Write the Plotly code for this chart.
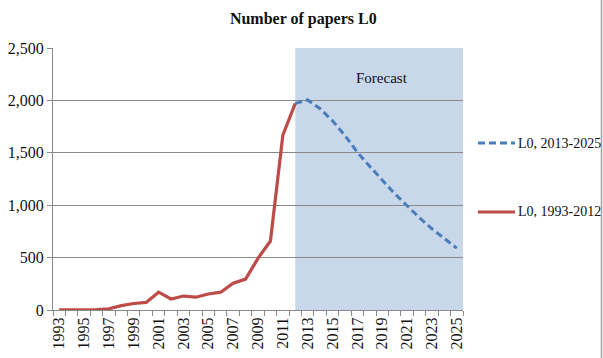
import plotly.graph_objects as go

# Observed yearly paper counts
actual_years = list(range(1993, 2013))
actual_counts = [2, 2, 2, 3, 12, 42, 62, 72, 170, 105, 133, 122, 153, 170, 255, 295, 493, 658, 1668, 1972]

# Forecast (continues from the last observed year)
forecast_years = list(range(2013, 2026))
forecast_counts = [2004, 1920, 1805, 1665, 1505, 1370, 1235, 1110, 995, 880, 775, 680, 590]

label_years = list(range(1993, 2026, 2))
y_ticks = [0, 500, 1000, 1500, 2000, 2500]

FONT = "Liberation Serif, Times New Roman, serif"
RED = "#be4b48"
BLUE = "#4a7ebb"
GRID = "#8a8a8a"
BLUE_DASH = "7px,4px"

# Plot area geometry (pixels) used to place the side legend in paper units
W, H = 603, 358
L, R, T, B = 53, 140, 48, 48
PW, PH = W - L - R, H - T - B


def px_x(px):
    return (px - L) / PW


def px_y(py):
    return (H - B - py) / PH


fig = go.Figure()

# Forecast line joins the last observed point
fig.add_trace(go.Scatter(
    x=[actual_years[-1]] + forecast_years,
    y=[actual_counts[-1]] + forecast_counts,
    mode="lines", name="L0, 2013-2025",
    line=dict(color=BLUE, width=3, dash=BLUE_DASH),
))
fig.add_trace(go.Scatter(
    x=actual_years, y=actual_counts,
    mode="lines", name="L0, 1993-2012",
    line=dict(color=RED, width=3.2),
))

# Shaded forecast period
fig.add_shape(type="rect", xref="x", yref="y",
              x0=actual_years[-1], x1=forecast_years[-1] + 0.5, y0=0, y1=2500,
              fillcolor="#c8d8ea", line=dict(width=0), layer="below")
fig.add_annotation(x=2019, y=2215, xref="x", yref="y", text="Forecast",
                   showarrow=False, font=dict(family=FONT, size=15, color="#111"))

# Side legend: line sample + label for each series
legend_items = [("L0, 2013-2025", BLUE, BLUE_DASH, 143),
                ("L0, 1993-2012", RED, "solid", 212)]
for text, color, dash, py in legend_items:
    fig.add_shape(type="line", xref="paper", yref="paper",
                  x0=px_x(478), x1=px_x(515), y0=px_y(py), y1=px_y(py),
                  line=dict(color=color, width=3, dash=dash))
    fig.add_annotation(xref="paper", yref="paper", x=px_x(516), y=px_y(py),
                       xanchor="left", yanchor="middle", text=text, showarrow=False,
                       font=dict(family=FONT, size=14, color="#111"))

# Outer border on the right edge
fig.add_shape(type="line", xref="paper", yref="paper",
              x0=px_x(601.5), x1=px_x(601.5), y0=px_y(H + 5), y1=px_y(-5),
              line=dict(color="#a0a0a0", width=1.5))

fig.update_layout(
    width=W, height=H,
    margin=dict(l=L, r=R, t=T, b=B, autoexpand=False),
    paper_bgcolor="white", plot_bgcolor="white",
    font=dict(family=FONT, color="#111"),
    title=dict(text="<b>Number of papers L0</b>", x=0.503, xanchor="center",
               y=0.95, yanchor="middle", font=dict(family=FONT, size=16, color="#111")),
    showlegend=False,
    xaxis=dict(
        range=[actual_years[0] - 0.5, forecast_years[-1] + 0.5],
        tickmode="array", tickvals=label_years, ticktext=[str(y) for y in label_years],
        tickangle=-90, ticks="", showgrid=False, zeroline=False, automargin=False,
        showline=True, linecolor=GRID, linewidth=1,
        tickfont=dict(family=FONT, size=16, color="#111"),
        minor=dict(tick0=actual_years[0] - 0.5, dtick=1, ticks="outside",
                   ticklen=5, tickcolor=GRID, showgrid=False),
    ),
    yaxis=dict(
        range=[0, 2500], tickmode="array", tickvals=y_ticks, tickformat=",d",
        showgrid=True, gridcolor=GRID, gridwidth=1, zeroline=False, automargin=False,
        showline=True, linecolor=GRID, linewidth=1,
        ticks="outside", ticklen=5, tickcolor=GRID,
        tickfont=dict(family=FONT, size=16, color="#111"),
    ),
)

fig.write_html("out.html")
